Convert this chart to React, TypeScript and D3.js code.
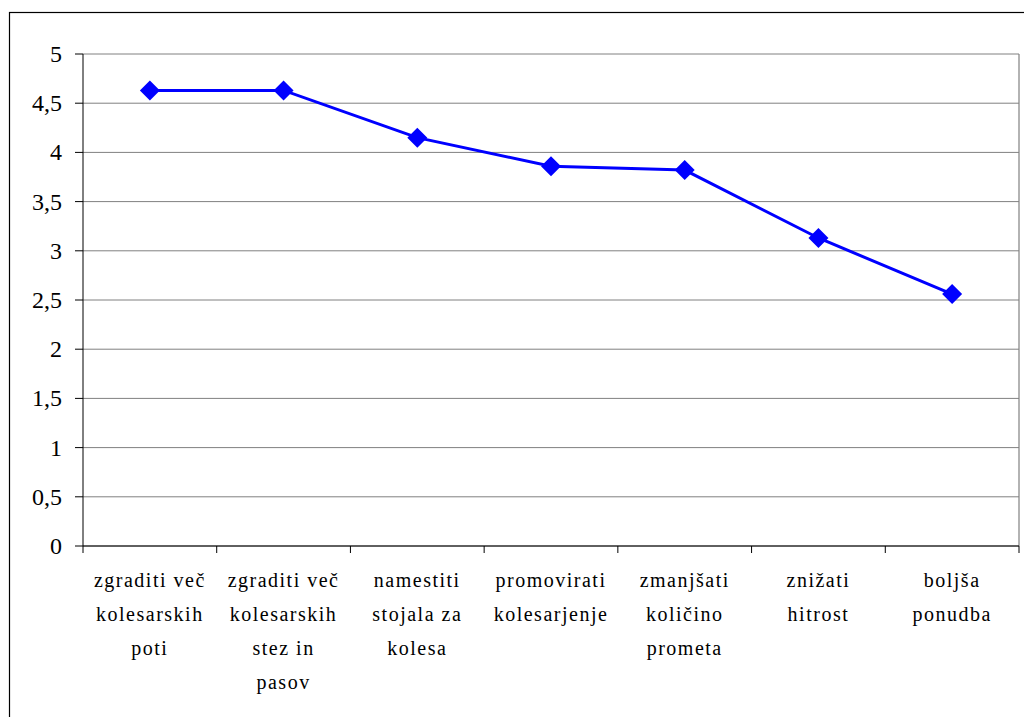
import React from "react";
import { scaleLinear, scaleBand, line } from "d3";

const categories = [
  ["zgraditi več", "kolesarskih", "poti"],
  ["zgraditi več", "kolesarskih", "stez in", "pasov"],
  ["namestiti", "stojala za", "kolesa"],
  ["promovirati", "kolesarjenje"],
  ["zmanjšati", "količino", "prometa"],
  ["znižati", "hitrost"],
  ["boljša", "ponudba"],
];
const values = [4.63, 4.63, 4.15, 3.86, 3.82, 3.13, 2.56];
const yTicks = [0, 0.5, 1, 1.5, 2, 2.5, 3, 3.5, 4, 4.5, 5];

const W = 1024;
const H = 717;
const left = 83;
const right = 1019;
const top = 54;
const bottom = 546;
const FONT = "Liberation Serif";

const App = () => {
  const x = scaleBand<number>()
    .domain(categories.map((_, i) => i))
    .range([left, right]);
  const y = scaleLinear().domain([0, 5]).range([bottom, top]);

  const pts: [number, number][] = values.map((v, i) => [x(i)! + x.bandwidth() / 2, y(v)]);
  const path = line()(pts) || "";
  const fmt = (v: number) => String(v).replace(".", ",");

  return (
    <svg width={ W } height={ H } style={ {position: "absolute", left: 0, top: 0} }>
      <rect width={ W } height={ H } fill="#fff"/>
      <rect x={ 9.5 } y={ 12.5 } width={ W + 10 } height={ H + 10 } fill="none" stroke="#000" strokeWidth={ 1.2 }/>

      {/* gridlines */}
      { yTicks.map((t) => (
        <line key={ t } x1={ left } x2={ right } y1={ y(t) } y2={ y(t) } stroke="#808080" strokeWidth={ 1 }/>
      )) }
      <line x1={ right } x2={ right } y1={ top } y2={ bottom } stroke="#808080" strokeWidth={ 1.2 }/>

      {/* y axis */}
      <line x1={ left } x2={ left } y1={ top } y2={ bottom } stroke="#000"/>
      { yTicks.map((t) => (
        <line key={ t } x1={ left - 8 } x2={ left } y1={ y(t) } y2={ y(t) } stroke="#000"/>
      )) }
      { yTicks.map((t) => (
        <text key={ t } x={ left - 21 } y={ y(t) + 8 } textAnchor="end" fontFamily={ FONT } fontSize={ 24 } fill="#000">{ fmt(t) }</text>
      )) }

      {/* x axis */}
      <line x1={ left } x2={ right } y1={ bottom } y2={ bottom } stroke="#000"/>
      { categories.map((_, i) => (
        <line key={ i } x1={ x(i)! } x2={ x(i)! } y1={ bottom } y2={ bottom + 7 } stroke="#000"/>
      )) }
      <line x1={ right } x2={ right } y1={ bottom } y2={ bottom + 7 } stroke="#000"/>
      { categories.map((lines, i) =>
        lines.map((l, j) => (
          <text key={ `${ i }-${ j }` } x={ x(i)! + x.bandwidth() / 2 } y={ 587 + j * 34 } textAnchor="middle" fontFamily={ FONT } fontSize={ 20 } letterSpacing={ 1.5 } fill="#000">{ l }</text>
        ))
      ) }

      {/* series */}
      <path d={ path } fill="none" stroke="#0000ff" strokeWidth={ 3 }/>
      { pts.map(([px, py], i) => (
        <path key={ i } d={ `M${ px },${ py - 10 }L${ px + 10 },${ py }L${ px },${ py + 10 }L${ px - 10 },${ py }Z` } fill="#0000ff"/>
      )) }
    </svg>
  );
};

export default App;
